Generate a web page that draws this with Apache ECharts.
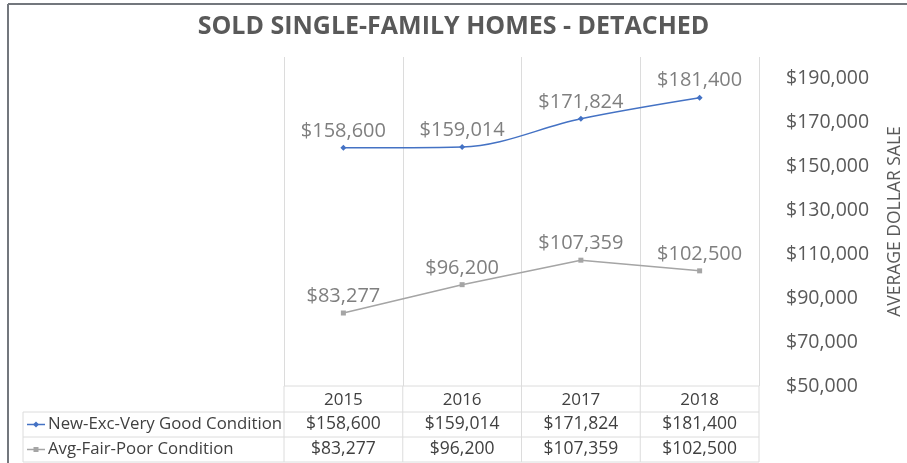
<!DOCTYPE html>
<html>
<head>
<meta charset="utf-8">
<script src="https://cdn.jsdelivr.net/npm/echarts@6/dist/echarts.min.js"></script>
<style>
    html, body { margin: 0; padding: 0; background: #fff; }
    #chart { width: 907px; height: 463px; }
</style>
</head>
<body>
<div id="chart"></div>
<script>
    // data
    const years = ['2015', '2016', '2017', '2018'];
    const newExc = [158600, 159014, 171824, 181400];
    const avgFair = [83277, 96200, 107359, 102500];
    const seriesNames = ['New-Exc-Very Good Condition', 'Avg-Fair-Poor Condition'];
    const seriesColors = ['#4472c4', '#a5a5a5'];

    const money = v => '$' + Number(v).toLocaleString('en-US');
    const FONT = '"Open Sans", sans-serif';

    // layout of plot + data table underneath
    const plotLeft = 284, plotRight = 759, plotTop = 57, plotBottom = 386;
    const rowTops = [386, 412, 437, 462];
    const tableLeft = 23;
    const colW = (plotRight - plotLeft) / years.length;
    const lineColor = '#dcdcdc';

    const graphics = [];
    const hline = (x1, x2, y) => graphics.push({
        type: 'line', shape: {x1: x1, y1: y, x2: x2, y2: y},
        style: {stroke: lineColor, lineWidth: 1}, silent: true
    });
    const vline = (x, y1, y2) => graphics.push({
        type: 'line', shape: {x1: x, y1: y1, x2: x, y2: y2},
        style: {stroke: lineColor, lineWidth: 1}, silent: true
    });

    // outer chart border (top + left)
    graphics.push({type: 'line', shape: {x1: 8, y1: 4, x2: 907, y2: 4}, style: {stroke: '#73777d', lineWidth: 2}});
    graphics.push({type: 'line', shape: {x1: 8, y1: 4, x2: 8, y2: 463}, style: {stroke: '#73777d', lineWidth: 2}});

    hline(plotLeft, plotRight, rowTops[0]);
    hline(tableLeft, plotRight, rowTops[1]);
    hline(tableLeft, plotRight, rowTops[2]);
    hline(tableLeft, plotRight, rowTops[3]);
    vline(tableLeft, rowTops[1], rowTops[3]);
    for (let i = 0; i <= years.length; i++) {
        vline(plotLeft + i * colW, rowTops[0], rowTops[3]);
    }

    const rows = [newExc, avgFair];
    rows.forEach((vals, r) => {
        const cy = (rowTops[r + 1] + rowTops[r + 2]) / 2;
        // legend key
        graphics.push({type: 'line', shape: {x1: 27, y1: cy, x2: 45, y2: cy},
            style: {stroke: seriesColors[r], lineWidth: 1.5}});
        if (r === 0) {
            graphics.push({type: 'polygon', shape: {points: [[36, cy - 3], [39, cy], [36, cy + 3], [33, cy]]},
                style: {fill: seriesColors[r]}});
        } else {
            graphics.push({type: 'rect', shape: {x: 33.5, y: cy - 2.5, width: 5, height: 5},
                style: {fill: seriesColors[r]}});
        }
        graphics.push({type: 'text', x: 48, y: cy,
            style: {text: seriesNames[r], font: '16.8px ' + FONT, fill: '#404040', verticalAlign: 'middle'}});
        vals.forEach((v, i) => {
            graphics.push({type: 'text', x: plotLeft + (i + 0.5) * colW, y: cy,
                style: {text: money(v), font: '17.5px ' + FONT, fill: '#404040',
                    align: 'center', verticalAlign: 'middle'}});
        });
    });

    const labelStyle = {
        show: true,
        position: 'top',
        distance: 4,
        fontFamily: FONT,
        fontSize: 20,
        color: '#7f7f7f',
        formatter: p => money(p.value)
    };

    const options = {
        backgroundColor: '#fff',
        animation: false,
        title: {
            text: 'SOLD SINGLE-FAMILY HOMES - DETACHED',
            left: 'center',
            top: 9,
            textStyle: {fontFamily: FONT, fontSize: 25, fontWeight: 'bold', color: '#595959'}
        },
        grid: {
            left: plotLeft,
            right: 907 - plotRight,
            top: plotTop,
            bottom: 463 - plotBottom,
            outerBoundsMode: 'none'
        },
        xAxis: {
            type: 'category',
            data: years,
            boundaryGap: true,
            axisLine: {show: false},
            axisTick: {show: false},
            axisLabel: {margin: 6, fontFamily: FONT, fontSize: 17, color: '#404040'},
            splitLine: {show: true, lineStyle: {color: lineColor, width: 1}}
        },
        yAxis: {
            type: 'value',
            position: 'right',
            min: 50000,
            max: 200000,
            interval: 20000,
            axisLine: {show: false},
            axisTick: {show: false},
            splitLine: {show: false},
            axisLabel: {
                margin: 27,
                fontFamily: FONT,
                fontSize: 19.5,
                color: '#595959',
                showMaxLabel: false,
                formatter: v => v === 200000 ? '' : money(v)
            },
            name: 'AVERAGE DOLLAR SALE',
            nameLocation: 'middle',
            nameRotate: 90,
            nameGap: 127,
            nameTextStyle: {fontFamily: FONT, fontSize: 17.5, color: '#595959'}
        },
        series: [
            {
                name: seriesNames[0],
                type: 'line',
                data: newExc,
                smooth: 0.35,
                symbol: 'diamond',
                symbolSize: 6,
                itemStyle: {color: seriesColors[0]},
                lineStyle: {color: seriesColors[0], width: 1.5},
                label: labelStyle
            },
            {
                name: seriesNames[1],
                type: 'line',
                data: avgFair,
                symbol: 'rect',
                symbolSize: 5,
                itemStyle: {color: seriesColors[1]},
                lineStyle: {color: seriesColors[1], width: 1.5},
                label: labelStyle
            }
        ],
        graphic: graphics
    };

    const myChart = echarts.init(document.getElementById('chart'));
    myChart.setOption(options);
</script>
</body>
</html>
